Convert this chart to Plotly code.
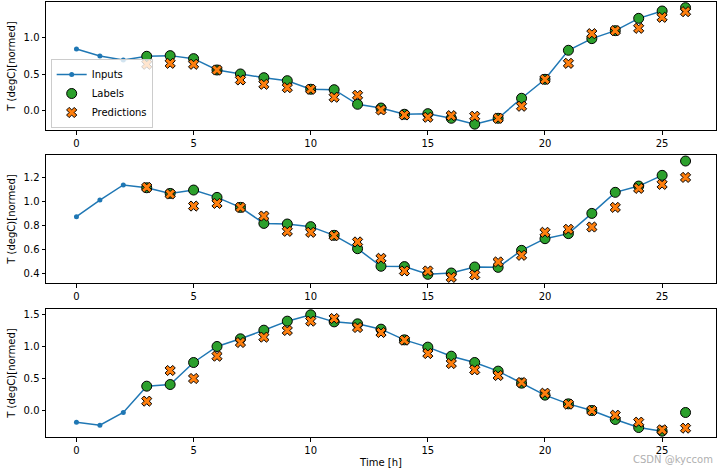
import plotly.graph_objects as go
from plotly.subplots import make_subplots

input_x = list(range(0, 26))
label_x = list(range(3, 27))

inputs_1 = [0.846, 0.75, 0.696, 0.746, 0.755, 0.714, 0.559, 0.505, 0.454, 0.413, 0.296, 0.29, 0.091,
            0.04, -0.045, -0.037, -0.1, -0.18, -0.1, 0.173, 0.432, 0.828, 0.987, 1.096, 1.264, 1.364]
labels_1 = inputs_1[3:] + [1.41]
preds_1 = [0.637, 0.65, 0.637, 0.559, 0.423, 0.364, 0.318, 0.296, 0.187, 0.214, 0.014, -0.055,
           -0.086, -0.064, -0.072, -0.1, 0.064, 0.432, 0.65, 1.055, 1.096, 1.128, 1.278, 1.355]

inputs_2 = [0.876, 1.014, 1.139, 1.116, 1.069, 1.097, 1.036, 0.953, 0.82, 0.815, 0.793, 0.721, 0.61,
            0.464, 0.461, 0.397, 0.408, 0.458, 0.455, 0.596, 0.693, 0.735, 0.903, 1.078, 1.13, 1.219]
labels_2 = inputs_2[3:] + [1.338]
preds_2 = [1.119, 1.064, 0.964, 0.986, 0.953, 0.881, 0.754, 0.746, 0.718, 0.666, 0.53, 0.425,
           0.425, 0.372, 0.392, 0.5, 0.555, 0.746, 0.771, 0.79, 0.953, 1.111, 1.144, 1.202]

inputs_3 = [-0.182, -0.229, -0.031, 0.38, 0.406, 0.75, 1.0, 1.12, 1.255, 1.396, 1.495, 1.385, 1.354,
            1.271, 1.104, 0.99, 0.849, 0.75, 0.615, 0.427, 0.24, 0.104, 0.0, -0.14, -0.266, -0.323]
labels_3 = inputs_3[3:] + [-0.031]
preds_3 = [0.146, 0.625, 0.5, 0.849, 1.0625, 1.146, 1.25, 1.396, 1.4375, 1.297, 1.219, 1.099,
           0.89, 0.734, 0.635, 0.547, 0.4375, 0.27, 0.099, 0.0, -0.073, -0.182, -0.302, -0.276]

x_ticks = [0, 5, 10, 15, 20, 25]
y_ticks = [[0.0, 0.5, 1.0], [0.4, 0.6, 0.8, 1.0, 1.2], [0.0, 0.5, 1.0, 1.5]]
y_ranges = [[-0.26, 1.487], [0.325, 1.388], [-0.414, 1.586]]

panels = [(inputs_1, labels_1, preds_1), (inputs_2, labels_2, preds_2), (inputs_3, labels_3, preds_3)]

W, H = 728, 471
ml, mr, mt, mb = 46, 12, 2, 34
ph = H - mt - mb
def py(pix):
    return 1 - (pix - mt) / ph

domains = [[py(130), py(2)], [py(283), py(155)], [py(437), py(309)]]

fig = make_subplots(rows=3, cols=1)
font = "DejaVu Sans, sans-serif"

for i, (inp, lab, pred) in enumerate(panels):
    r = i + 1
    show = (i == 0)
    fig.add_trace(go.Scatter(x=input_x, y=inp, mode="lines+markers", name="Inputs",
                             line=dict(color="#1f77b4", width=1.5),
                             marker=dict(size=5, color="#1f77b4"),
                             showlegend=show, legendrank=1), row=r, col=1)
    fig.add_trace(go.Scatter(x=label_x, y=lab, mode="markers", name="Labels",
                             marker=dict(size=10, color="#2ca02c", line=dict(color="black", width=1)),
                             showlegend=show, legendrank=2), row=r, col=1)
    fig.add_trace(go.Scatter(x=label_x, y=pred, mode="markers", name="Predictions",
                             marker=dict(size=9, symbol="x", color="#ff7f0e", line=dict(color="black", width=1)),
                             showlegend=show, legendrank=3), row=r, col=1)
    xa = dict(range=[-1.3, 27.3], tickvals=x_ticks, showgrid=False, zeroline=False,
              showline=True, mirror=True, linecolor="black", linewidth=1,
              ticks="outside", ticklen=3.5, tickcolor="black", automargin=False,
              tickfont=dict(size=10, color="black", family=font))
    ya = dict(range=y_ranges[i], tickvals=y_ticks[i], tickformat=".1f", domain=domains[i],
              showgrid=False, zeroline=False, showline=True, mirror=True, automargin=False,
              linecolor="black", linewidth=1, ticks="outside", ticklen=3.5, tickcolor="black",
              tickfont=dict(size=10, color="black", family=font),
              title=dict(text="T (degC)[normed]", font=dict(size=10, color="black", family=font), standoff=6))
    if i == 2:
        xa["title"] = dict(text="Time [h]", font=dict(size=10, color="black", family=font), standoff=4)
    fig.update_xaxes(**xa, row=r, col=1)
    fig.update_yaxes(**ya, row=r, col=1)

fig.update_layout(
    width=W, height=H,
    margin=dict(l=ml, r=mr, t=mt, b=mb, autoexpand=False),
    paper_bgcolor="white", plot_bgcolor="white",
    font=dict(family=font, size=10, color="black"),
    legend=dict(x=0.007, y=py(128), xanchor="left", yanchor="bottom",
                bgcolor="rgba(255,255,255,0.8)", bordercolor="#cccccc", borderwidth=1,
                font=dict(size=10, family=font), tracegroupgap=0, itemwidth=30),
    annotations=[dict(text="CSDN @kyccom", xref="paper", yref="paper", x=0.998, y=py(459),
                      xanchor="right", yanchor="middle", showarrow=False,
                      font=dict(size=10, color="#b0b0b0", family=font))]
)

fig.write_html("out.html", config={"displayModeBar": False},
               post_script="document.body.style.margin='0';document.body.style.padding='0';")
